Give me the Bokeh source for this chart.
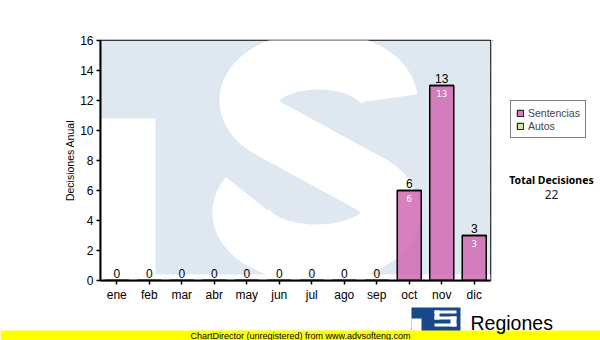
import numpy as np
from bokeh.plotting import figure
from bokeh.layouts import column, row
from bokeh.models import (Range1d, FixedTicker, Legend, LegendItem, Label, ColumnDataSource)
from bokeh.core.properties import value
from bokeh.embed import file_html
from bokeh.resources import INLINE

months = ["ene", "feb", "mar", "abr", "may", "jun", "jul", "ago", "sep", "oct", "nov", "dic"]
sentencias = [0, 0, 0, 0, 0, 0, 0, 0, 0, 6, 13, 3]
autos = [0, 0, 0, 0, 0, 0, 0, 0, 0, 0, 0, 0]
y_ticks = [0, 2, 4, 6, 8, 10, 12, 14, 16]
y_max = 16
y_label = "Decisiones Anual"
series_names = ["Sentencias", "Autos"]
series_colors = ["#d064b0", "#d2e6a0"]
total_title = "Total Decisiones"
footer_text = "ChartDirector (unregistered) from www.advsofteng.com"
brand_text = "Regiones"

W, H = 600, 340
MAIN_W, MAIN_H = 492, 306
L, R, T, B = 100, 2, 40, 26

# ---------------- main chart ----------------
p = figure(width=MAIN_W, height=MAIN_H, output_backend="svg", toolbar_location=None,
           x_range=Range1d(0, len(months)), y_range=Range1d(0, y_max),
           min_border_left=L, min_border_right=R, min_border_top=T, min_border_bottom=B)
p.background_fill_color = "white"
p.border_fill_color = "white"
p.outline_line_color = "black"
p.outline_line_width = 1.5

fw, fh = MAIN_W - L - R, MAIN_H - T - B
def dx(X):
    return (np.asarray(X, dtype=float) - L) / fw * len(months)
def dy(Y):
    return (T + fh - np.asarray(Y, dtype=float)) / fh * y_max

# decorative "TS" watermark behind the bars
p.quad(left=0, right=len(months), bottom=0, top=y_max, fill_color="#dfe8f1", line_color=None)
p.quad(left=dx(L), right=dx(155), bottom=0, top=dy(118), fill_color="white", line_color=None)
p.quad(left=0, right=len(months), bottom=0, top=dy(274), fill_color="white", line_color=None)
t1 = np.radians(np.linspace(3, 225, 70))
ux = 318 + 70 * np.cos(t1); uy = 100 - 40 * np.sin(t1)
t2 = np.radians(np.linspace(45, -205, 80))
lx = 316 + 75 * np.cos(t2); ly = 212 - 41 * np.sin(t2)
sx = np.concatenate([ux, lx]); sy = np.concatenate([uy, ly])
p.line(dx(sx), dy(sy), line_color="white", line_width=58, line_join="round", line_cap="butt")

# grid & axes
p.xgrid.visible = False
p.ygrid.grid_line_color = "#b4b4b4"
p.ygrid.grid_line_width = 1
p.yaxis.ticker = FixedTicker(ticks=y_ticks)
centers = [i + 0.5 for i in range(len(months))]
p.xaxis.ticker = FixedTicker(ticks=centers)
p.xaxis.major_label_overrides = {c: m for c, m in zip(centers, months)}
for ax in (p.xaxis[0], p.yaxis[0]):
    ax.axis_line_color = "black"
    ax.axis_line_width = 2
    ax.major_tick_line_color = "black"
    ax.major_tick_line_width = 1.5
    ax.major_tick_out = 4
    ax.major_tick_in = 0
    ax.minor_tick_line_color = None
    ax.major_label_text_font = "Liberation Sans"
    ax.major_label_text_font_size = "12px"
    ax.major_label_text_color = "black"
    ax.major_label_standoff = 3
p.yaxis.axis_label = y_label
p.yaxis.axis_label_text_font = "Liberation Sans"
p.yaxis.axis_label_text_font_size = "10.5px"
p.yaxis.axis_label_text_font_style = "normal"
p.yaxis.axis_label_text_color = "black"
p.yaxis.axis_label_standoff = 1

tot = [s + a for s, a in zip(sentencias, autos)]
src = ColumnDataSource(dict(x=centers, s=sentencias, t=tot,
                            lbl=[str(v) for v in tot],
                            ilbl=[str(v) if v > 0 else "" for v in sentencias]))
p.vbar(x="x", top="s", bottom=0, width=0.74, source=src, fill_color=series_colors[0],
       fill_alpha=0.82, line_color="black", line_width=1.5)
p.vbar(x="x", top="t", bottom="s", width=0.74, source=src, fill_color=series_colors[1],
       line_color="black", line_width=1.5)
p.text(x="x", y="t", text="lbl", source=src, text_align="center", text_baseline="bottom",
       y_offset=-3, text_font=value("Liberation Sans"), text_font_size="12px", text_color="black")
p.text(x="x", y="s", text="ilbl", source=src, text_align="center", text_baseline="top",
       y_offset=4, text_font=value("DejaVu Sans"), text_font_size="8.5px", text_color="white")

# ---------------- right side: legend + total ----------------
RW = W - MAIN_W
pr = figure(width=RW, height=MAIN_H, output_backend="svg", toolbar_location=None,
            x_range=Range1d(0, RW), y_range=Range1d(MAIN_H, 0),
            x_axis_location=None, y_axis_location=None, min_border=0)
pr.grid.visible = False
pr.outline_line_color = None
pr.background_fill_color = "white"
pr.border_fill_color = "white"
# legend proxies (single swatch placed outside the visible range)
proxy = ColumnDataSource(dict(x=[-1000], top=[0]))
r_s = pr.vbar(x="x", top="top", width=1, source=proxy, fill_color=series_colors[0],
              fill_alpha=0.82, line_color="black", line_width=1)
r_a = pr.vbar(x="x", top="top", width=1, source=proxy, fill_color=series_colors[1],
              line_color="black", line_width=1)
legend = Legend(items=[LegendItem(label=series_names[0], renderers=[r_s]),
                       LegendItem(label=series_names[1], renderers=[r_a])],
                location=(510 - MAIN_W, MAIN_H - 136 - 28))
legend.border_line_color = "black"
legend.border_line_width = 1
legend.background_fill_color = "white"
legend.background_fill_alpha = 1
legend.label_text_font = "Liberation Sans"
legend.label_text_font_size = "10.5px"
legend.glyph_width = 8
legend.glyph_height = 8
legend.label_standoff = 4
legend.label_height = 13
legend.spacing = 0
legend.padding = 5
legend.margin = 0
pr.add_layout(legend)
pr.add_layout(Label(x=551 - MAIN_W, y=178, text=total_title, text_font="Noto Sans",
                    text_font_size="10.5px", text_font_style="bold", text_align="center",
                    text_baseline="middle", text_color="black"))
pr.add_layout(Label(x=551 - MAIN_W, y=196, text=str(sum(tot)), text_font="Noto Sans",
                    text_font_size="12px", text_align="center", text_baseline="middle",
                    text_color="#222222"))

# ---------------- bottom strip: logo + footer ----------------
BH = H - MAIN_H
pb = figure(width=W, height=BH, output_backend="svg", toolbar_location=None,
            x_range=Range1d(0, W), y_range=Range1d(H, MAIN_H),
            x_axis_location=None, y_axis_location=None, min_border=0)
pb.grid.visible = False
pb.outline_line_color = None
pb.background_fill_color = "white"
pb.border_fill_color = "white"
pb.quad(left=411, right=460, top=307, bottom=332, fill_color="#17488a", line_color=None)
pb.quad(left=[411, 434, 434, 450, 434, 434], right=[421, 456, 439, 456, 456, 456],
        top=[318, 310, 310, 316, 323, 316], bottom=[332, 313, 319, 326, 326, 319],
        fill_color="white", line_color=None)
pb.add_layout(Label(x=470, y=322, text=brand_text, text_font="Liberation Sans",
                    text_font_size="19.5px", text_align="left", text_baseline="alphabetic",
                    text_color="black"))
pb.quad(left=0, right=W, top=330, bottom=H, fill_color="#ffff00", line_color=None)
pb.add_layout(Label(x=300, y=335.5, text=footer_text, text_font="Liberation Sans",
                    text_font_size="9px", text_align="center", text_baseline="middle",
                    text_color="black"))

layout = column(row(p, pr, spacing=0), pb, spacing=0)
open("out.html", "w").write(file_html(layout, INLINE))
